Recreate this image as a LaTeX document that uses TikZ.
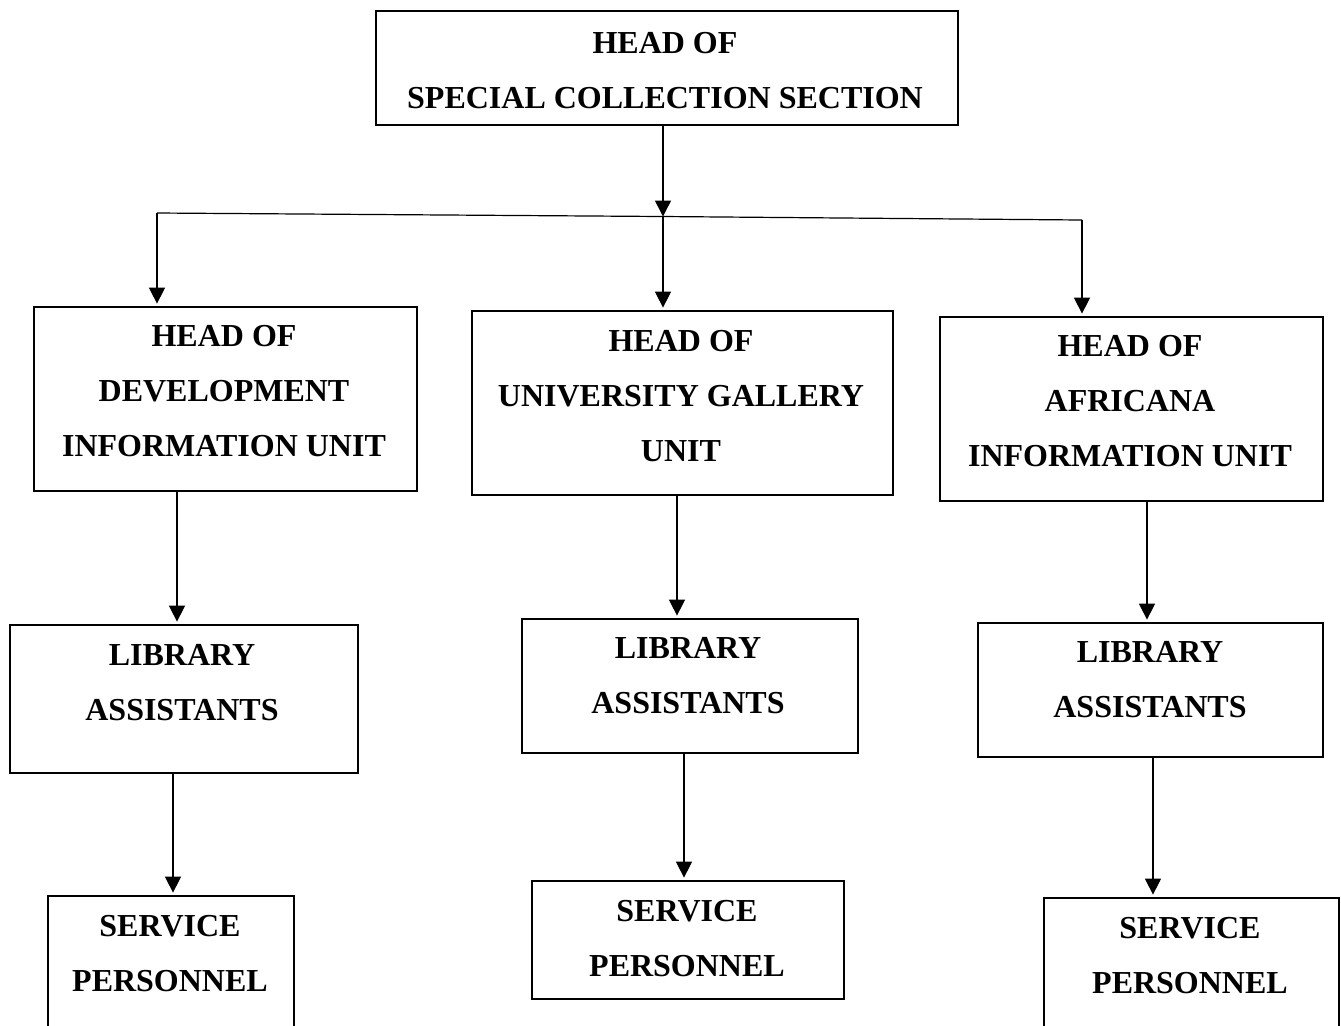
\documentclass[tikz,border=0pt]{standalone}
\usepackage{fontspec}
\setmainfont{Liberation Serif}
\usetikzlibrary{arrows.meta}
\begin{document}
\begin{tikzpicture}[x=0.5pt,y=-0.5pt,
  box/.style={draw, line width=1pt, rectangle, inner sep=0pt, anchor=north west},
  lbl/.style={align=center, font=\fontsize{16}{27.5}\selectfont\bfseries, inner sep=0pt},
  arr/.style={line width=0.75pt, -{Triangle[width=8pt,length=8pt]}, shorten >=1.2pt},
  link/.style={line width=0.6pt}]
\useasboundingbox (0,0) rectangle (1341,1025);
\clip (0,0) rectangle (1341,1025);

% section head
\node[box, minimum width=291pt, minimum height=57pt] (b0) at (375,10) {};
\node[lbl] (t0) at (665,71) {HEAD OF\\SPECIAL COLLECTION SECTION};

% unit heads
\node[box, minimum width=191.5pt, minimum height=92pt] (b1) at (33,306) {};
\node[lbl] (t1) at (224,391.5) {HEAD OF\\DEVELOPMENT\\INFORMATION UNIT};
\node[box, minimum width=210.5pt, minimum height=92pt] (b2) at (471,310) {};
\node[lbl] (t2) at (681,396) {HEAD OF\\UNIVERSITY GALLERY\\UNIT};
\node[box, minimum width=191.5pt, minimum height=92pt] (b3) at (939,316) {};
\node[lbl] (t3) at (1130,401) {HEAD OF\\AFRICANA\\INFORMATION UNIT};

% library assistants
\node[box, minimum width=174pt, minimum height=74pt] (b4) at (9,624) {};
\node[lbl] (t4) at (182,683) {LIBRARY\\ASSISTANTS};
\node[box, minimum width=168pt, minimum height=67pt] (b5) at (521,618) {};
\node[lbl] (t5) at (688,676) {LIBRARY\\ASSISTANTS};
\node[box, minimum width=172.5pt, minimum height=67pt] (b6) at (977,622) {};
\node[lbl] (t6) at (1150,680) {LIBRARY\\ASSISTANTS};

% service personnel
\node[box, minimum width=123pt, minimum height=100pt] (b7) at (47,895) {};
\node[lbl] (t7) at (170,954) {SERVICE\\PERSONNEL};
\node[box, minimum width=156pt, minimum height=59pt] (b8) at (531,880) {};
\node[lbl] (t8) at (687,939) {SERVICE\\PERSONNEL};
\node[box, minimum width=147.5pt, minimum height=100pt] (b9) at (1043,897) {};
\node[lbl] (t9) at (1190,956) {SERVICE\\PERSONNEL};

% branching line
\coordinate (jl) at (157,213);
\coordinate (jm) at (663,216.5);
\coordinate (jr) at (1082,220);
\draw[link] (jl) -- (jm) -- (jr);
\draw[arr, shorten >=0pt] (b0.south -| jm) -- (jm);
\draw[arr] (jl) -- (b1.north -| jl);
\draw[arr] (jm) -- (b2.north -| jm);
\draw[arr] (jr) -- (b3.north -| jr);

% unit heads to assistants
\coordinate (x1) at (177,0);
\coordinate (x2) at (677,0);
\coordinate (x3) at (1147,0);
\draw[arr] (b1.south -| x1) -- (b4.north -| x1);
\draw[arr] (b2.south -| x2) -- (b5.north -| x2);
\draw[arr] (b3.south -| x3) -- (b6.north -| x3);

% assistants to service personnel
\coordinate (y1) at (173,0);
\coordinate (y2) at (684,0);
\coordinate (y3) at (1153,0);
\draw[arr] (b4.south -| y1) -- (b7.north -| y1);
\draw[arr] (b5.south -| y2) -- (b8.north -| y2);
\draw[arr] (b6.south -| y3) -- (b9.north -| y3);
\end{tikzpicture}
\end{document}
